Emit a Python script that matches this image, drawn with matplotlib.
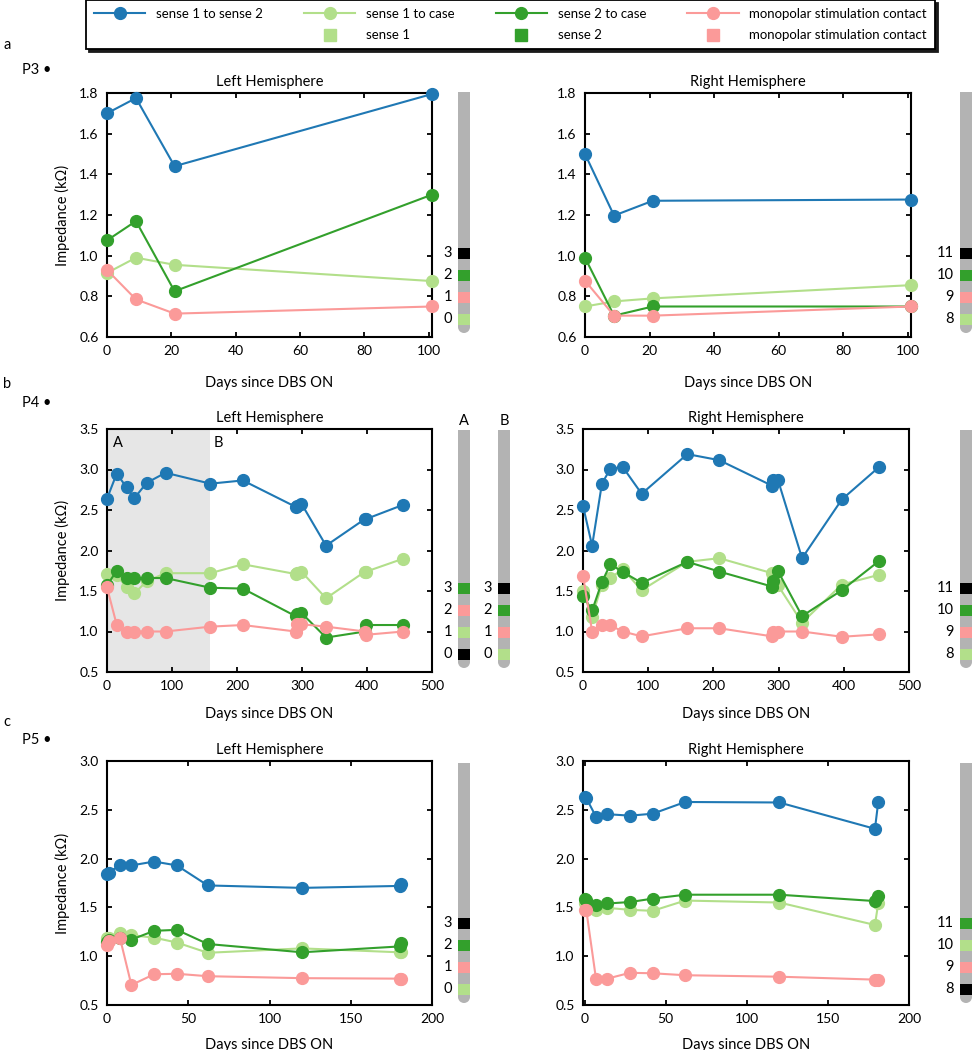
import matplotlib
matplotlib.use("Agg")
import matplotlib.pyplot as plt
from matplotlib.lines import Line2D
from matplotlib.patches import Rectangle, Circle

plt.rcParams['font.family'] = ['Lato', 'DejaVu Sans']

BLUE = '#1f78b4'
LGREEN = '#b2df8a'
DGREEN = '#33a02c'
PINK = '#fb9a99'
BLACK = '#000000'
LEAD_GREY = '#b3b3b3'

# ---- data ----
# P3
p3_left_days = [0, 9, 21, 101]
p3_left_s1s2 = [1.70, 1.775, 1.44, 1.795]
p3_left_s1case = [0.915, 0.99, 0.955, 0.875]
p3_left_s2case = [1.075, 1.17, 0.825, 1.30]
p3_left_mono = [0.93, 0.785, 0.715, 0.75]

p3_right_days = [0, 9, 21, 101]
p3_right_s1s2 = [1.50, 1.197, 1.27, 1.276]
p3_right_s1case = [0.75, 0.775, 0.79, 0.855]
p3_right_s2case = [0.99, 0.705, 0.75, 0.75]
p3_right_mono = [0.877, 0.705, 0.705, 0.75]

# P4
p4_left_days = [0, 15, 30, 42, 61, 90, 159, 209, 290, 292, 299, 337, 397, 399, 456]
p4_left_s1s2 = [2.64, 2.95, 2.78, 2.645, 2.835, 2.96, 2.825, 2.865, 2.54, 2.55, 2.58, 2.06, 2.39, 2.39, 2.565]
p4_left_s1case = [1.71, 1.70, 1.545, 1.47, 1.62, 1.72, 1.72, 1.83, 1.71, 1.72, 1.74, 1.41, 1.74, 1.74, 1.90]
p4_left_s2case = [1.57, 1.75, 1.66, 1.66, 1.66, 1.66, 1.54, 1.53, 1.19, 1.21, 1.23, 0.925, 1.0, 1.08, 1.08]
p4_left_mono = [1.545, 1.08, 1.0, 1.0, 1.0, 1.0, 1.06, 1.08, 1.0, 1.09, 1.09, 1.06, 1.0, 0.96, 1.0]

p4_right_days = [0, 14, 29, 42, 61, 90, 160, 209, 290, 292, 299, 336, 397, 454]
p4_right_s1s2 = [2.55, 2.06, 2.825, 3.01, 3.03, 2.70, 3.19, 3.115, 2.80, 2.87, 2.87, 1.905, 2.63, 3.03]
p4_right_s1case = [1.50, 1.18, 1.58, 1.66, 1.77, 1.51, 1.86, 1.905, 1.72, 1.65, 1.57, 1.11, 1.58, 1.70]
p4_right_s2case = [1.44, 1.26, 1.61, 1.83, 1.735, 1.60, 1.86, 1.74, 1.555, 1.62, 1.745, 1.19, 1.51, 1.87]
p4_right_mono = [1.69, 1.0, 1.085, 1.075, 1.0, 0.94, 1.04, 1.04, 0.94, 1.0, 1.0, 1.0, 0.935, 0.965]

# P5
p5_left_days = [0, 1, 8, 15, 29, 43, 62, 120, 180, 181]
p5_left_s1s2 = [1.84, 1.855, 1.935, 1.93, 1.97, 1.93, 1.725, 1.70, 1.72, 1.74]
p5_left_s1case = [1.19, 1.19, 1.235, 1.215, 1.19, 1.14, 1.035, 1.08, 1.04, 1.04]
p5_left_s2case = [1.15, 1.17, 1.185, 1.17, 1.26, 1.27, 1.125, 1.04, 1.10, 1.135]
p5_left_mono = [1.11, 1.16, 1.185, 0.705, 0.815, 0.82, 0.795, 0.775, 0.77, 0.77]

p5_right_days = [0, 1, 7, 14, 28, 42, 62, 120, 179, 181]
p5_right_s1s2 = [2.63, 2.62, 2.43, 2.455, 2.44, 2.46, 2.58, 2.575, 2.305, 2.575]
p5_right_s1case = [1.545, 1.545, 1.47, 1.495, 1.475, 1.465, 1.57, 1.55, 1.32, 1.54]
p5_right_s2case = [1.59, 1.575, 1.525, 1.54, 1.555, 1.59, 1.63, 1.63, 1.565, 1.62]
p5_right_mono = [1.475, 1.475, 0.77, 0.77, 0.83, 0.825, 0.805, 0.79, 0.76, 0.76]

# lead contacts, listed bottom to top
left_contacts = ['0', '1', '2', '3']
right_contacts = ['8', '9', '10', '11']
p3_left_lead = [LGREEN, PINK, DGREEN, BLACK]
p3_right_lead = [LGREEN, PINK, DGREEN, BLACK]
p4_lead_a = [BLACK, LGREEN, PINK, DGREEN]
p4_lead_b = [LGREEN, PINK, DGREEN, BLACK]
p4_right_lead = [LGREEN, PINK, DGREEN, BLACK]
p5_left_lead = [LGREEN, PINK, DGREEN, BLACK]
p5_right_lead = [BLACK, PINK, LGREEN, DGREEN]

W, H = 973, 1050
fig = plt.figure(figsize=(W / 100, H / 100), dpi=100)


def px_axes(x0, y0, x1, y1):
    return fig.add_axes([x0 / W, 1 - y1 / H, (x1 - x0) / W, (y1 - y0) / H])


def panel(box, days, s1s2, s1case, s2case, mono, xlim, xticks, ylim, yticks, title,
          ylabel=True, xlab_y=-0.145):
    ax = px_axes(*box)
    for vals, c in [(s1s2, BLUE), (s1case, LGREEN), (s2case, DGREEN), (mono, PINK)]:
        ax.plot(days, vals, '-o', color=c, lw=1.5, ms=8.5, clip_on=False, zorder=3)
    ax.set_xlim(*xlim)
    ax.set_ylim(*ylim)
    ax.set_xticks(xticks)
    ax.set_yticks(yticks)
    ax.set_yticklabels([f'{v:.1f}' for v in yticks])
    ax.tick_params(direction='in', top=True, right=True, length=3.5, width=1.3,
                   labelsize=10, pad=6)
    for s in ax.spines.values():
        s.set_linewidth(1.5)
    ax.set_title(title, fontsize=10.5, pad=5)
    ax.set_xlabel('Days since DBS ON', fontsize=10.5)
    ax.xaxis.set_label_coords(0.5, xlab_y)
    if ylabel:
        ax.set_ylabel('Impedance (kΩ)', fontsize=10.5)
        ax.yaxis.set_label_coords(-0.115, 0.5)
    return ax


def lead(x0, y0, x1, y1, labels, colors, top_label=None):
    ax = px_axes(x0, y0, x1, y1)
    w, h = x1 - x0, y1 - y0
    ax.set_xlim(0, w)
    ax.set_ylim(0, h)
    ax.axis('off')
    r = w / 2
    ax.add_patch(Rectangle((0, r), w, h - r, color=LEAD_GREY, lw=0))
    ax.add_patch(Circle((r, r), r, color=LEAD_GREY, lw=0))
    for off, lab, col in zip([14, 36, 58, 80], labels, colors):
        ax.add_patch(Rectangle((0, off - 5.5), w, 11, color=col, lw=0))
        ax.text(-6, off, lab, ha='right', va='center', fontsize=10.5)
    if top_label:
        ax.text(r, h + 9, top_label, ha='center', va='center', fontsize=10.5)


# a: P3
panel((107, 93, 432, 337), p3_left_days, p3_left_s1s2, p3_left_s1case, p3_left_s2case, p3_left_mono,
      (0, 101), range(0, 101, 20), (0.6, 1.8), [0.6, 0.8, 1.0, 1.2, 1.4, 1.6, 1.8], 'Left Hemisphere',
      xlab_y=-0.16)
panel((585, 93, 911, 337), p3_right_days, p3_right_s1s2, p3_right_s1case, p3_right_s2case, p3_right_mono,
      (0, 101), range(0, 101, 20), (0.6, 1.8), [0.6, 0.8, 1.0, 1.2, 1.4, 1.6, 1.8], 'Right Hemisphere',
      ylabel=False, xlab_y=-0.16)
lead(458, 92, 470, 333, left_contacts, p3_left_lead)
lead(960, 92, 972, 333, right_contacts, p3_right_lead)

# b: P4
ax = panel((107, 429, 432, 672), p4_left_days, p4_left_s1s2, p4_left_s1case, p4_left_s2case, p4_left_mono,
           (0, 500), range(0, 501, 100), (0.5, 3.5), [0.5, 1.0, 1.5, 2.0, 2.5, 3.0, 3.5], 'Left Hemisphere')
ax.axvspan(0, 159, color='#e6e6e6', lw=0, zorder=0)
ax.text(16, 3.33, 'A', ha='center', va='center', fontsize=10.5)
ax.text(171, 3.33, 'B', ha='center', va='center', fontsize=10.5)
panel((583, 429, 909, 672), p4_right_days, p4_right_s1s2, p4_right_s1case, p4_right_s2case, p4_right_mono,
      (0, 500), range(0, 501, 100), (0.5, 3.5), [0.5, 1.0, 1.5, 2.0, 2.5, 3.0, 3.5], 'Right Hemisphere',
      ylabel=False)
lead(458, 430, 470, 668, left_contacts, p4_lead_a, top_label='A')
lead(498, 430, 510, 668, left_contacts, p4_lead_b, top_label='B')
lead(960, 430, 972, 668, right_contacts, p4_right_lead)

# c: P5
panel((107, 761, 432, 1005), p5_left_days, p5_left_s1s2, p5_left_s1case, p5_left_s2case, p5_left_mono,
      (0, 200), range(0, 201, 50), (0.5, 3.0), [0.5, 1.0, 1.5, 2.0, 2.5, 3.0], 'Left Hemisphere',
      xlab_y=-0.135)
panel((583, 761, 909, 1005), p5_right_days, p5_right_s1s2, p5_right_s1case, p5_right_s2case, p5_right_mono,
      (-1, 200), range(0, 201, 50), (0.5, 3.0), [0.5, 1.0, 1.5, 2.0, 2.5, 3.0], 'Right Hemisphere',
      ylabel=False, xlab_y=-0.135)
lead(458, 763, 470, 1003, left_contacts, p5_left_lead)
lead(960, 763, 972, 1003, right_contacts, p5_right_lead)

# panel letters
for letter, pname, y_letter, y_p in [('a', 'P3 •', 45, 70), ('b', 'P4 •', 384, 403), ('c', 'P5 •', 722, 740)]:
    fig.text(3 / W, 1 - y_letter / H, letter, ha='left', va='center', fontsize=10.5)
    fig.text(22 / W, 1 - y_p / H, pname, ha='left', va='center', fontsize=10.5)

# legend
handles = [
    Line2D([], [], color=BLUE, marker='o', lw=1.5, ms=8.5),
    Line2D([], [], alpha=0),
    Line2D([], [], color=LGREEN, marker='o', lw=1.5, ms=8.5),
    Line2D([], [], color=LGREEN, marker='s', ls='none', ms=9),
    Line2D([], [], color=DGREEN, marker='o', lw=1.5, ms=8.5),
    Line2D([], [], color=DGREEN, marker='s', ls='none', ms=9),
    Line2D([], [], color=PINK, marker='o', lw=1.5, ms=8.5),
    Line2D([], [], color=PINK, marker='s', ls='none', ms=9),
]
labels = ['sense 1 to sense 2', '', 'sense 1 to case', 'sense 1',
          'sense 2 to case', 'sense 2', 'monopolar stimulation contact', 'monopolar stimulation contact']
leg = fig.legend(handles, labels, ncol=4, loc='upper left', mode='expand',
                 bbox_to_anchor=(86 / W, 1, 849 / W, 0), borderaxespad=0,
                 fontsize=9.5, handlelength=3.9, handletextpad=0.8, labelspacing=0.7,
                 borderpad=0.6, fancybox=False, edgecolor='black', framealpha=1,
                 shadow={'color': '0.1', 'alpha': 1})
leg.get_frame().set_linewidth(1.3)

fig.savefig('out.png', dpi=100)
